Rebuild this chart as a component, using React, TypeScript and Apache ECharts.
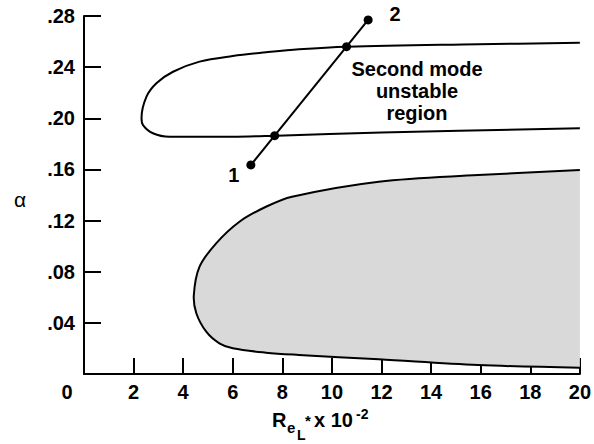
import React, { useEffect, useRef } from "react";
import * as echarts from "echarts";

// Second mode unstable region boundary (traced from upper branch right end, around nose, to lower branch right end)
const secondModeX = [20, 15.9, 10.61, 8.67, 7.34, 6.0, 4.66, 3.59, 2.92, 2.52, 2.32, 2.38, 2.78, 3.45, 5.98, 7.78, 12.0, 20];
const secondModeA = [0.2591, 0.2579, 0.256, 0.254, 0.2516, 0.2487, 0.2443, 0.2364, 0.2274, 0.2169, 0.2002, 0.1947, 0.1883, 0.1856, 0.1856, 0.1864, 0.1888, 0.1922];

// First mode unstable region boundary
const firstModeX = [20, 15.9, 11.89, 8.39, 7.34, 6.27, 5.33, 4.66, 4.43, 4.53, 4.93, 5.46, 6.0, 7.34, 8.67, 11.89, 15.9, 20];
const firstModeA = [0.1595, 0.1556, 0.1504, 0.1387, 0.1308, 0.1191, 0.1022, 0.0839, 0.0618, 0.0475, 0.0331, 0.024, 0.0201, 0.0167, 0.0149, 0.0115, 0.007, 0.0049];

// Path 1 -> 2 and its marked points
const pathX = [6.73, 11.46];
const pathA = [0.1635, 0.2769];
const dotX = [6.73, 7.69, 10.59, 11.46];
const dotA = [0.1635, 0.1864, 0.256, 0.2769];
const dotLabels = ["1", "", "", "2"];

const FONT = '"Liberation Sans", Arial, Helvetica, sans-serif';

export default function App() {
  const ref = useRef<HTMLDivElement>(null);
  useEffect(() => {
    document.body.style.margin = "0";
    const chart = echarts.init(ref.current!, null, { renderer: "svg" });
    const labelOffsets: Record<string, number[]> = { "1": [-17, 10], "2": [27, -6] };
    const option: any = {
      animation: false,
      backgroundColor: "#ffffff",
      grid: { left: 84, right: 12, top: 16, bottom: 70 },
      xAxis: {
        type: "value",
        min: 0,
        max: 20,
        interval: 2,
        splitLine: { show: false },
        axisLine: { show: true, lineStyle: { color: "#000", width: 2 } },
        axisTick: { show: true, inside: true, length: 16, lineStyle: { color: "#000", width: 2 } },
        axisLabel: {
          color: "#000",
          fontSize: 20,
          fontWeight: "bold",
          fontFamily: FONT,
          margin: 8,
          formatter: (v: number) => (v === 0 ? "{z|0}" : String(v)),
          rich: { z: { fontSize: 20, fontWeight: "bold", fontFamily: FONT, color: "#000", padding: [0, 34, 0, 0] } },
        },
      },
      yAxis: {
        type: "value",
        min: 0,
        max: 0.28,
        interval: 0.04,
        splitLine: { show: false },
        axisLine: { show: true, lineStyle: { color: "#000", width: 2 } },
        axisTick: { show: true, inside: true, length: 17, lineStyle: { color: "#000", width: 2 } },
        axisLabel: {
          color: "#000",
          fontSize: 20,
          fontWeight: "bold",
          fontFamily: FONT,
          margin: 9,
          formatter: (v: number) => (v === 0 ? "" : v.toFixed(2).replace(/^0/, "")),
        },
      },
      graphic: [
        { type: "text", x: 20, y: 199, style: { text: "α", fontSize: 21, fontFamily: FONT, fill: "#000", align: "center", verticalAlign: "middle" } },
        { type: "text", x: 272, y: 420, style: { text: "R", fontSize: 20, fontWeight: "bold", fontFamily: FONT, fill: "#000", align: "left", verticalAlign: "middle" } },
        { type: "text", x: 287, y: 427, style: { text: "e", fontSize: 15, fontWeight: "bold", fontFamily: FONT, fill: "#000", align: "left", verticalAlign: "middle" } },
        { type: "text", x: 297, y: 434.5, style: { text: "L", fontSize: 14, fontWeight: "bold", fontFamily: FONT, fill: "#000", align: "left", verticalAlign: "middle" } },
        { type: "text", x: 305, y: 420, style: { text: "*", fontSize: 15, fontWeight: "bold", fontFamily: FONT, fill: "#000", align: "left", verticalAlign: "middle" } },
        { type: "text", x: 314, y: 420, style: { text: "x 10", fontSize: 20, fontWeight: "bold", fontFamily: FONT, fill: "#000", align: "left", verticalAlign: "middle" } },
        { type: "text", x: 356, y: 414, style: { text: "-2", fontSize: 14, fontWeight: "bold", fontFamily: FONT, fill: "#000", align: "left", verticalAlign: "middle" } },
        { type: "text", x: 417, y: 90.5, style: { text: "Second mode\nunstable\nregion", fontSize: 20, lineHeight: 22, fontWeight: "bold", fontFamily: FONT, fill: "#000", align: "center", verticalAlign: "middle" } },
        { type: "text", x: 457, y: 238.5, style: { text: "First mode\nunstable\nregion", fontSize: 20, lineHeight: 23, fontWeight: "bold", fontFamily: FONT, fill: "#000", align: "center", verticalAlign: "middle" } },
      ],
      series: [
        {
          type: "custom",
          data: firstModeX.map((x, i) => [x, firstModeA[i]]),
          encode: { x: 0, y: 1 },
          z: 1,
          renderItem: (params: any, api: any) => {
            if (params.dataIndex !== 0) return null;
            const pts = firstModeX.map((x, i) => api.coord([x, firstModeA[i]]));
            return {
              type: "polyline",
              shape: { points: pts, smooth: 0.35 },
              style: { fill: "#d9d9d9", stroke: "#000", lineWidth: 2 },
            };
          },
        },
        {
          type: "line",
          data: secondModeX.map((x, i) => [x, secondModeA[i]]),
          smooth: 0.35,
          showSymbol: false,
          lineStyle: { color: "#000", width: 2 },
          z: 3,
        },
        {
          type: "line",
          data: pathX.map((x, i) => [x, pathA[i]]),
          showSymbol: false,
          lineStyle: { color: "#000", width: 2 },
          z: 3,
        },
        {
          type: "scatter",
          symbolSize: 9,
          itemStyle: { color: "#000", opacity: 1 },
          z: 4,
          data: dotX.map((x, i) => ({
            value: [x, dotA[i]],
            label: dotLabels[i]
              ? {
                  show: true,
                  formatter: dotLabels[i],
                  position: "inside",
                  offset: labelOffsets[dotLabels[i]],
                  fontSize: 20,
                  fontWeight: "bold",
                  fontFamily: FONT,
                  color: "#000",
                  textBorderWidth: 0,
                }
              : { show: false },
          })),
        },
      ],
    };
    chart.setOption(option);
    return () => chart.dispose();
  }, []);
  return <div ref={ref} style={{ position: "absolute", left: 0, top: 0, width: 594, height: 444 }} />;
}
